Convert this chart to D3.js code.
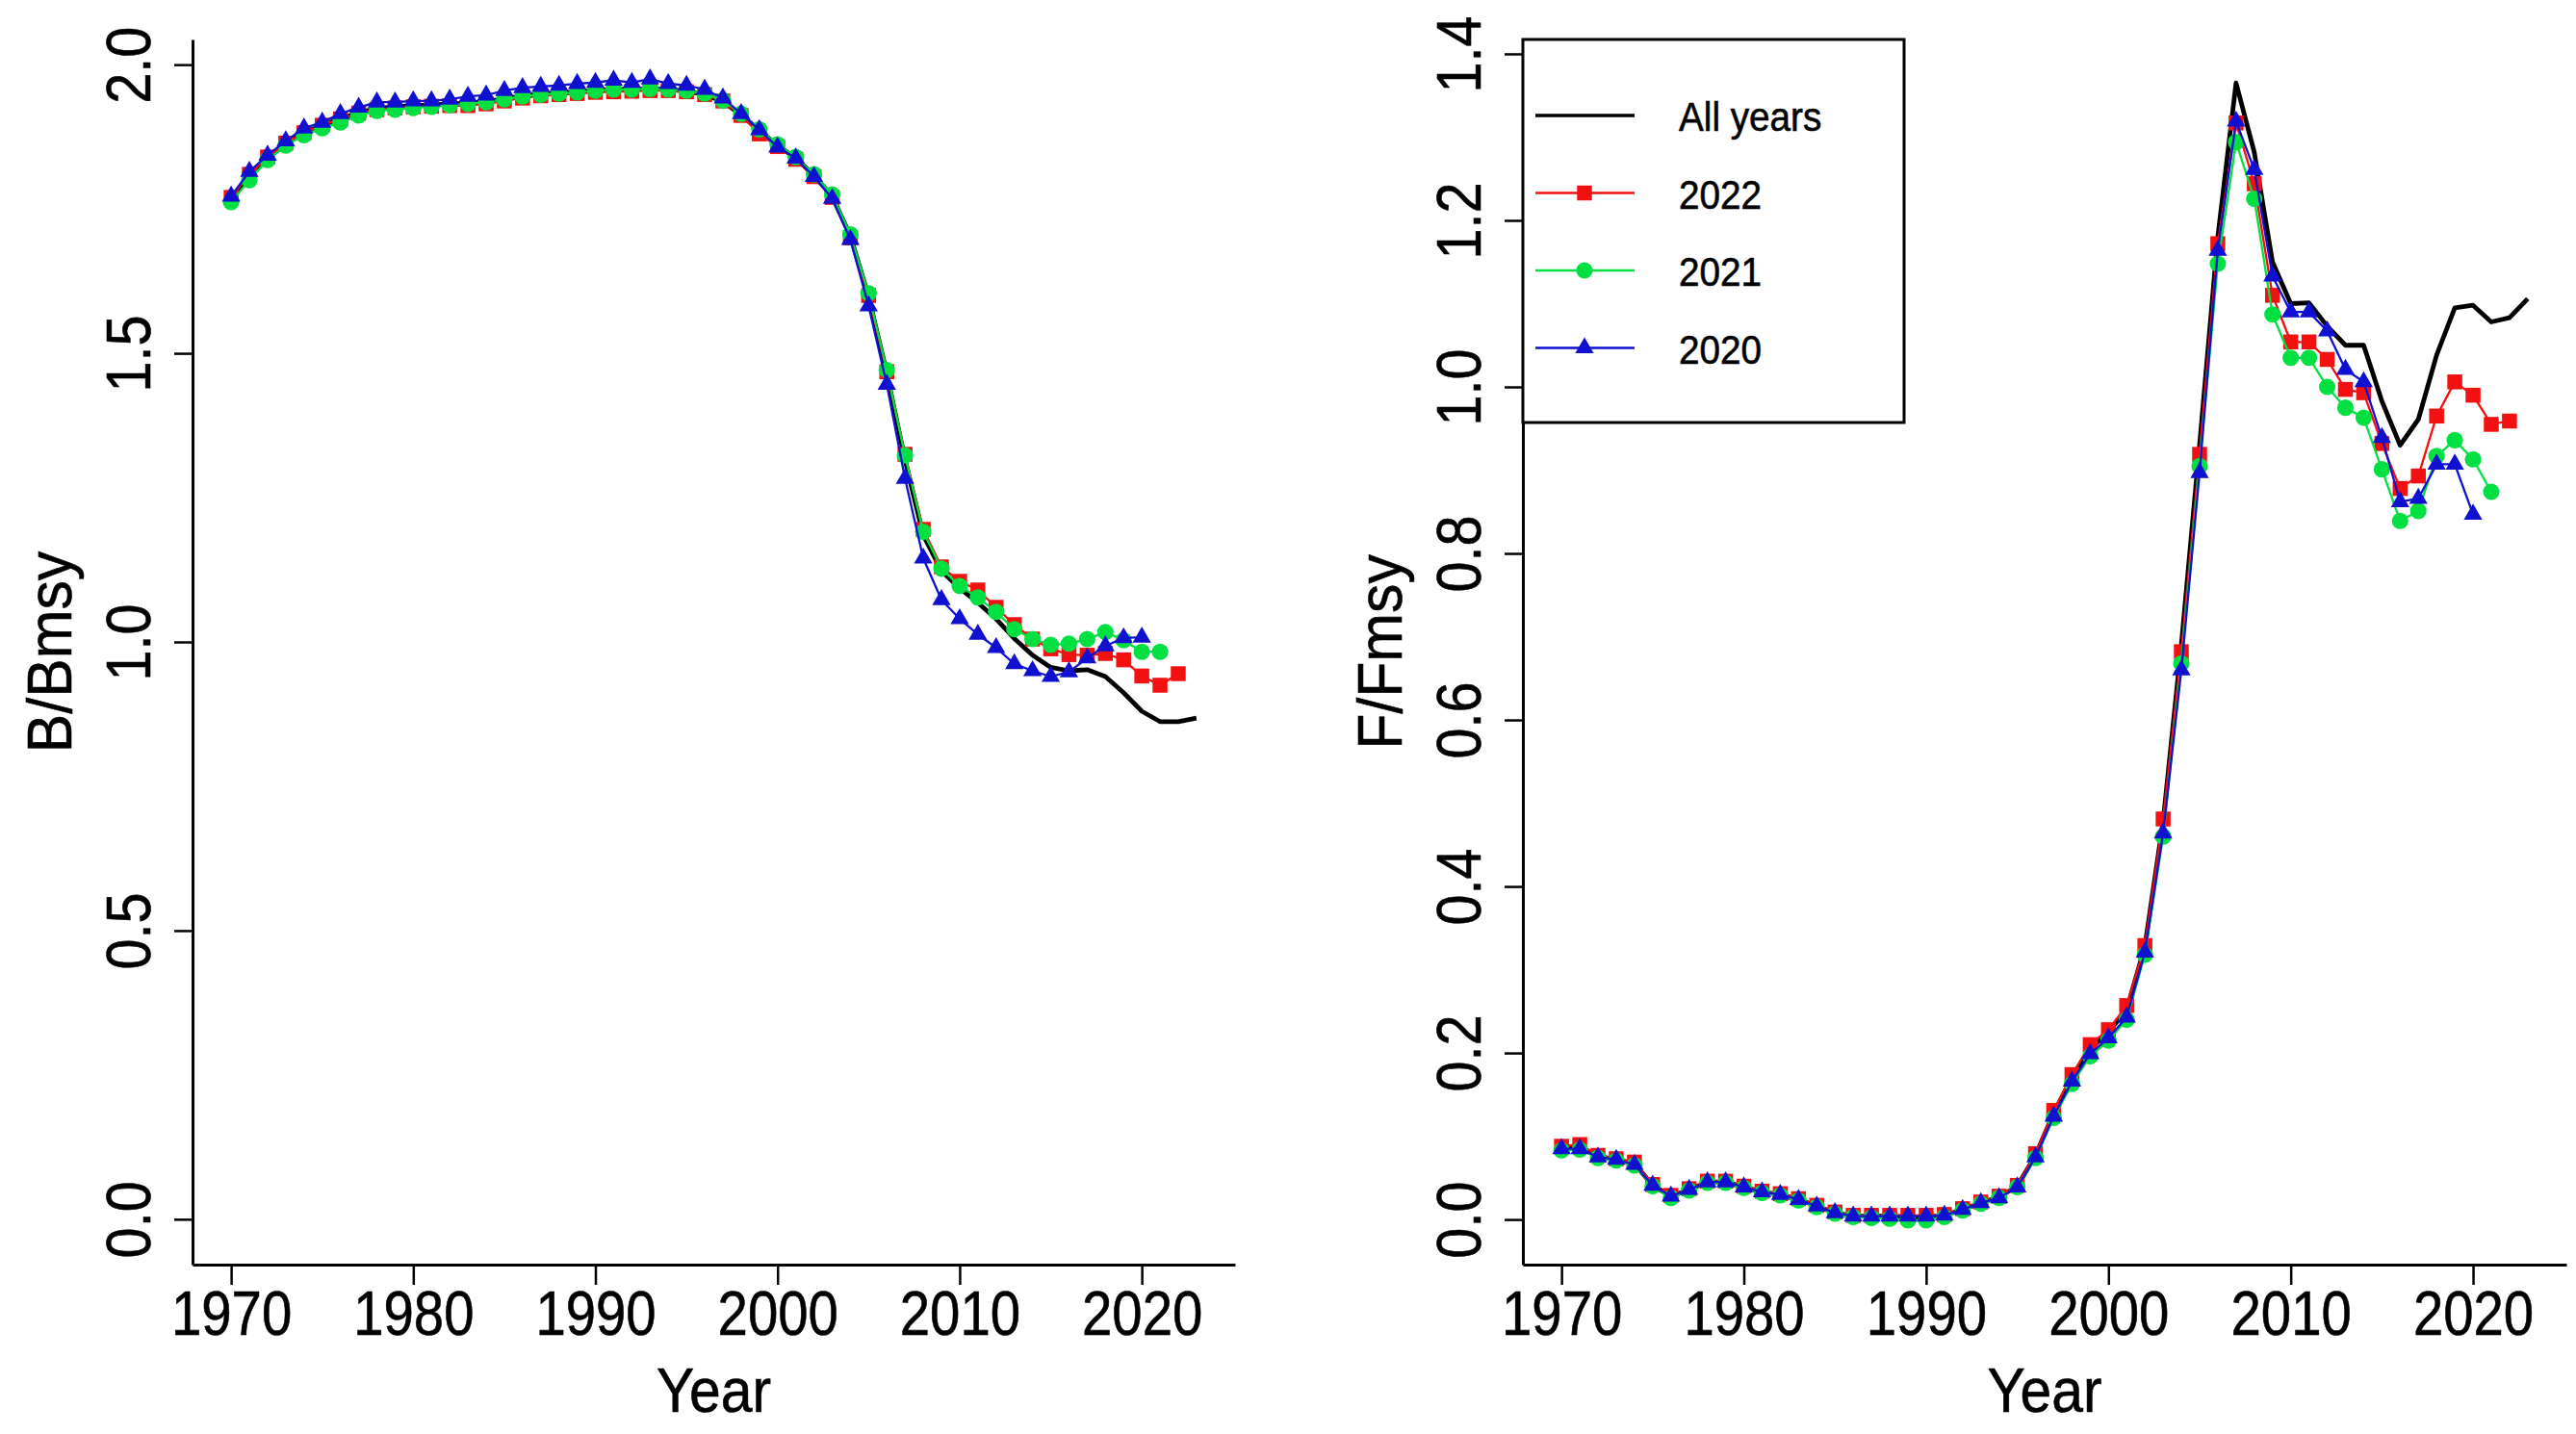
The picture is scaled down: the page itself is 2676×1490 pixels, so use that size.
<!DOCTYPE html>
<html>
<head>
<meta charset="utf-8">
<script src="https://cdn.jsdelivr.net/npm/d3@7"></script>
<style>
    html, body { margin: 0; padding: 0; background: #fff; }
    svg { display: block; }
    text { font-family: "Liberation Sans", Arial, sans-serif; fill: #000; stroke: #000; stroke-width: 0.6px; }
</style>
</head>
<body>
<div id="chart"></div>
<script>
// ---- data ----
const years = d3.range(1970, 2024);
const xTicks = [1970, 1980, 1990, 2000, 2010, 2020];
const bTicks = [0, 0.5, 1.0, 1.5, 2.0];
const fTicks = [0, 0.2, 0.4, 0.6, 0.8, 1.0, 1.2, 1.4];
const legendLabels = ["All years", "2022", "2021", "2020"];

// B/Bmsy
const bAllYears = [
    1.768, 1.808, 1.838, 1.863, 1.882, 1.895, 1.906, 1.917, 1.924, 1.927,
    1.929, 1.930, 1.932, 1.933, 1.936, 1.941, 1.946, 1.949, 1.951, 1.953,
    1.955, 1.957, 1.957, 1.958, 1.957, 1.954, 1.948, 1.936, 1.913, 1.886,
    1.860, 1.838, 1.808, 1.772, 1.703, 1.598, 1.465, 1.315, 1.185, 1.123,
    1.093, 1.068, 1.040, 1.006, 0.977, 0.956, 0.950, 0.952, 0.940, 0.912,
    0.880, 0.862, 0.862, 0.868,
];
const b2022 = [
    1.770, 1.810, 1.840, 1.864, 1.882, 1.895, 1.906, 1.916, 1.922, 1.925,
    1.927, 1.928, 1.929, 1.929, 1.932, 1.937, 1.942, 1.946, 1.948, 1.950,
    1.952, 1.953, 1.954, 1.955, 1.955, 1.953, 1.948, 1.937, 1.912, 1.880,
    1.858, 1.836, 1.806, 1.770, 1.700, 1.600, 1.468, 1.325, 1.195, 1.130,
    1.105, 1.090, 1.060, 1.030, 1.005, 0.988, 0.978, 0.977, 0.980, 0.969,
    0.941, 0.925, 0.945,
];
const b2021 = [
    1.762, 1.800, 1.835, 1.860, 1.878, 1.890, 1.900, 1.912, 1.920, 1.922,
    1.925, 1.927, 1.930, 1.932, 1.935, 1.940, 1.945, 1.948, 1.950, 1.952,
    1.955, 1.957, 1.957, 1.958, 1.957, 1.955, 1.950, 1.938, 1.915, 1.888,
    1.862, 1.840, 1.810, 1.775, 1.706, 1.604, 1.471, 1.323, 1.191, 1.127,
    1.097, 1.077, 1.052, 1.022, 1.005, 0.995, 0.997, 1.005, 1.017, 1.003,
    0.983, 0.983,
];
const b2020 = [
    1.772, 1.815, 1.843, 1.868, 1.890, 1.900, 1.915, 1.926, 1.935, 1.935,
    1.937, 1.937, 1.940, 1.945, 1.947, 1.955, 1.960, 1.962, 1.964, 1.967,
    1.969, 1.973, 1.969, 1.975, 1.967, 1.964, 1.957, 1.942, 1.915, 1.887,
    1.857, 1.838, 1.806, 1.768, 1.697, 1.582, 1.446, 1.283, 1.145, 1.073,
    1.040, 1.013, 0.990, 0.962, 0.950, 0.940, 0.948, 0.972, 0.993, 1.007,
    1.008,
];

// F/Fmsy
const fAllYears = [
    0.085, 0.087, 0.076, 0.072, 0.067, 0.041, 0.028, 0.036, 0.045, 0.045,
    0.039, 0.033, 0.030, 0.024, 0.016, 0.008, 0.004, 0.004, 0.004, 0.003,
    0.003, 0.005, 0.012, 0.020, 0.027, 0.040, 0.077, 0.128, 0.170, 0.205,
    0.225, 0.252, 0.328, 0.478, 0.690, 0.930, 1.180, 1.365, 1.282, 1.150,
    1.100, 1.101, 1.073, 1.050, 1.050, 0.983, 0.930, 0.961, 1.038, 1.095,
    1.098, 1.078, 1.083, 1.106,
];
const f2022 = [
    0.088, 0.090, 0.077, 0.073, 0.069, 0.042, 0.029, 0.037, 0.046, 0.046,
    0.040, 0.034, 0.031, 0.025, 0.017, 0.009, 0.005, 0.005, 0.005, 0.005,
    0.005, 0.006, 0.013, 0.021, 0.028, 0.041, 0.079, 0.131, 0.174, 0.210,
    0.228, 0.257, 0.329, 0.481, 0.682, 0.919, 1.172, 1.317, 1.244, 1.110,
    1.054, 1.054, 1.033, 0.997, 0.993, 0.932, 0.878, 0.893, 0.965, 1.006,
    0.990, 0.955, 0.959,
];
const f2021 = [
    0.083, 0.084, 0.074, 0.071, 0.065, 0.040, 0.026, 0.035, 0.044, 0.044,
    0.038, 0.032, 0.029, 0.023, 0.015, 0.007, 0.003, 0.002, 0.001, -0.001,
    -0.001, 0.003, 0.011, 0.019, 0.026, 0.039, 0.074, 0.122, 0.163, 0.196,
    0.215, 0.240, 0.318, 0.460, 0.668, 0.905, 1.148, 1.294, 1.226, 1.087,
    1.035, 1.035, 1.000, 0.975, 0.963, 0.901, 0.839, 0.851, 0.917, 0.936,
    0.913, 0.874,
];
const f2020 = [
    0.085, 0.085, 0.075, 0.072, 0.066, 0.041, 0.028, 0.036, 0.045, 0.045,
    0.039, 0.033, 0.030, 0.024, 0.016, 0.008, 0.004, 0.004, 0.004, 0.004,
    0.004, 0.005, 0.012, 0.020, 0.026, 0.039, 0.075, 0.124, 0.166, 0.199,
    0.218, 0.243, 0.321, 0.464, 0.660, 0.897, 1.164, 1.319, 1.261, 1.133,
    1.090, 1.090, 1.067, 1.021, 1.006, 0.939, 0.862, 0.866, 0.907, 0.907,
    0.847,
];

// ---- styles ----
const W = 2676, H = 1490;
const plotTop = 41, plotBottom = 1314;
const xDomain = [1967.88, 2025.12]; // 1970-2023 with R's 4% padding

const styles = [
    { color: "#000000", width: 4.8, symbol: null, size: 0 },
    { color: "#f21010", width: 2.3, symbol: d3.symbolSquare, size: 240 },
    { color: "#00e040", width: 2.3, symbol: d3.symbolCircle, size: 230 },
    { color: "#1010d0", width: 2.3, symbol: d3.symbolTriangle, size: 160 },
];

const svg = d3
    .select("#chart")
    .append("svg")
    .attr("width", W)
    .attr("height", H);

svg.append("rect").attr("width", W).attr("height", H).attr("fill", "#fff");

const drawPanel = (p) => {
    const x = d3.scaleLinear().domain(xDomain).range(p.xRange);
    const y = d3.scaleLinear().domain(p.yDomain).range([plotBottom, plotTop]);
    const g = svg.append("g");

    // x axis (bottom side of the "L" box)
    const gx = g
        .append("g")
        .attr("transform", `translate(0,${plotBottom})`)
        .call(
            d3
                .axisBottom(x)
                .tickValues(xTicks)
                .tickFormat(d3.format("d"))
                .tickSize(21)
                .tickSizeOuter(0)
                .tickPadding(7)
        );
    gx.select(".domain").attr("stroke-width", 3);
    gx.selectAll(".tick line").attr("stroke-width", 2.5);
    gx.selectAll(".tick text")
        .attr("font-size", 64)
        .attr("transform", "scale(0.88,1)");

    // y axis, labels rotated like R's las=0
    const gy = g
        .append("g")
        .attr("transform", `translate(${p.xRange[0]},0)`)
        .call(
            d3
                .axisLeft(y)
                .tickValues(p.yTicks)
                .tickFormat(d3.format(".1f"))
                .tickSize(19)
                .tickSizeOuter(0)
        );
    gy.select(".domain").attr("stroke-width", 3);
    gy.selectAll(".tick line").attr("stroke-width", 2.5);
    gy.selectAll(".tick text")
        .attr("x", null)
        .attr("dy", null)
        .attr("text-anchor", "middle")
        .attr("font-size", 64)
        .attr("transform", "translate(-44,0) rotate(-90) scale(0.9,1)");

    // axis titles
    g.append("text")
        .attr("text-anchor", "middle")
        .attr("font-size", 64)
        .attr(
            "transform",
            `translate(${p.xRange[0] - 126},${(plotTop + plotBottom) / 2}) rotate(-90) scale(0.95,1)`
        )
        .text(p.yTitle);

    g.append("text")
        .attr("text-anchor", "middle")
        .attr("font-size", 64)
        .attr(
            "transform",
            `translate(${(p.xRange[0] + p.xRange[1]) / 2},1467) scale(0.92,1)`
        )
        .text("Year");

    // series: lines first, then points (type="o")
    p.series.forEach((vals, i) => {
        const st = styles[i];
        const pts = vals.map((v, j) => [years[j], v]);

        g.append("path")
            .datum(pts)
            .attr("fill", "none")
            .attr("stroke", st.color)
            .attr("stroke-width", st.width)
            .attr("stroke-linejoin", "round")
            .attr(
                "d",
                d3
                    .line()
                    .x((d) => x(d[0]))
                    .y((d) => y(d[1]))
            );

        if (st.symbol) {
            g.selectAll(null)
                .data(pts)
                .join("path")
                .attr("transform", (d) => `translate(${x(d[0])},${y(d[1])})`)
                .attr("d", d3.symbol(st.symbol, st.size))
                .attr("fill", st.color);
        }
    });

    return g;
};

drawPanel({
    xRange: [200, 1283],
    yDomain: [-0.0786, 2.0436],
    yTicks: bTicks,
    yTitle: "B/Bmsy",
    series: [bAllYears, b2022, b2021, b2020],
});

const right = drawPanel({
    xRange: [1582, 2666],
    yDomain: [-0.0542, 1.4173],
    yTicks: fTicks,
    yTitle: "F/Fmsy",
    series: [fAllYears, f2022, f2021, f2020],
});

// legend (top-left of the F/Fmsy panel)
const legend = right.append("g").attr("class", "legend");

legend
    .append("rect")
    .attr("x", 1582)
    .attr("y", 41)
    .attr("width", 396)
    .attr("height", 398)
    .attr("fill", "#fff")
    .attr("stroke", "#000")
    .attr("stroke-width", 3);

legendLabels.forEach((label, i) => {
    const st = styles[i];
    const item = legend
        .append("g")
        .attr("transform", `translate(0, ${120 + i * 80.5})`);

    item.append("line")
        .attr("x1", 1595)
        .attr("x2", 1698)
        .attr("stroke", st.color)
        .attr("stroke-width", i === 0 ? 3.5 : 2.5);

    if (st.symbol) {
        item.append("path")
            .attr("transform", "translate(1646,0)")
            .attr("d", d3.symbol(st.symbol, st.size))
            .attr("fill", st.color);
    }

    item.append("text")
        .attr("font-size", 43)
        .attr("transform", "translate(1744,16) scale(0.9,1)")
        .text(label);
});
</script>
</body>
</html>
